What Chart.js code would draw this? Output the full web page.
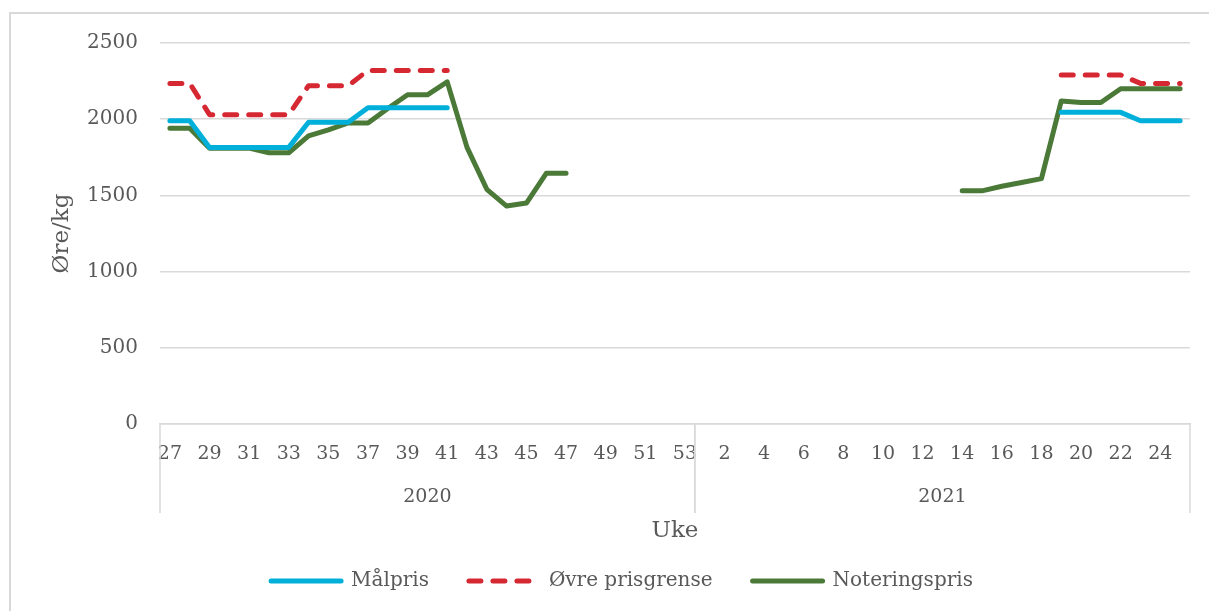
<!DOCTYPE html>
<html>
<head>
<meta charset="utf-8">
<script src="https://cdn.jsdelivr.net/npm/chart.js@4"></script>
<style>
  body { margin: 0; background: #fff; overflow: hidden; }
  #wrap { position: relative; width: 1209px; height: 611px; }
  #frame { position: absolute; left: 9px; top: 12px; width: 1300px; height: 700px; border: 2px solid #d9d9d9; pointer-events: none; }
</style>
</head>
<body>
<div id="wrap">
  <canvas id="priceChart" width="1209" height="611"></canvas>
  <div id="frame"></div>
</div>
<script>
// uker
const weeks2020 = ['27','28','29','30','31','32','33','34','35','36','37','38','39','40','41','42','43','44','45','46','47','48','49','50','51','52','53'];
const weeks2021 = ['1','2','3','4','5','6','7','8','9','10','11','12','13','14','15','16','17','18','19','20','21','22','23','24','25'];
const years = ['2020', '2021'];

// øre/kg, null = ingen notering
const malpris = [
  1990, 1990, 1815, 1815, 1815, 1815, 1815, 1980, 1980, 1980, 2075, 2075, 2075, 2075, 2075,
  null, null, null, null, null, null, null, null, null, null, null, null,
  null, null, null, null, null, null, null, null, null, null, null, null, null, null, null, null, null, null,
  2045, 2045, 2045, 2045, 1990, 1990, 1990
];
const ovrePrisgrense = [
  2235, 2235, 2030, 2030, 2030, 2030, 2030, 2220, 2220, 2220, 2320, 2320, 2320, 2320, 2320,
  null, null, null, null, null, null, null, null, null, null, null, null,
  null, null, null, null, null, null, null, null, null, null, null, null, null, null, null, null, null, null,
  2290, 2290, 2290, 2290, 2235, 2235, 2235
];
const noteringspris = [
  1940, 1940, 1810, 1810, 1810, 1780, 1780, 1890, 1930, 1975, 1975, 2070, 2160, 2160, 2245,
  1815, 1540, 1430, 1450, 1645, 1645,
  null, null, null, null, null, null,
  null, null, null, null, null, null, null, null, null, null, null, null, null,
  1530, 1530, 1560, 1585, 1610, 2120, 2110, 2110, 2200, 2200, 2200, 2200
];
const yTicks = [0, 500, 1000, 1500, 2000, 2500];

const labels = weeks2020.concat(weeks2021);
const textColor = '#595959';
const gridColor = '#d9d9d9';
const fontFamily = '"DejaVu Serif", serif';

// årstall under ukene + skillelinjer
const yearGroups = {
  id: 'yearGroups',
  afterLayout(chart) {
    // legenden står litt til høyre for midten i originalen
    chart.legend.left += 22;
    chart.legend.right += 22;
  },
  afterDraw(chart) {
    const x = chart.scales.x;
    const ctx = chart.ctx;
    const bottom = chart.chartArea.bottom;
    const step = x.getPixelForValue(1) - x.getPixelForValue(0);
    const counts = [weeks2020.length, weeks2021.length];
    let start = 0;
    ctx.save();
    ctx.strokeStyle = gridColor;
    ctx.lineWidth = 1.5;
    ctx.fillStyle = textColor;
    ctx.font = '19px ' + fontFamily;
    ctx.textAlign = 'center';
    ctx.textBaseline = 'middle';
    counts.forEach((n, g) => {
      const left = x.getPixelForValue(start) - step / 2;
      const right = x.getPixelForValue(start + n - 1) + step / 2;
      [left, right].forEach(px => {
        ctx.beginPath();
        ctx.moveTo(px, bottom);
        ctx.lineTo(px, bottom + 89);
        ctx.stroke();
      });
      ctx.fillText(years[g], (left + right) / 2, bottom + 73);
      start += n;
    });
    ctx.restore();
  }
};

const ctx = document.getElementById('priceChart').getContext('2d');
new Chart(ctx, {
  type: 'line',
  data: {
    labels: labels,
    datasets: [{
      label: 'Målpris\u2003\u2002',
      data: malpris,
      borderColor: '#00b0da',
      backgroundColor: '#00b0da',
      borderWidth: 5
    }, {
      label: 'Øvre prisgrense\u2003\u2002',
      data: ovrePrisgrense,
      borderColor: '#d62832',
      backgroundColor: '#d62832',
      borderWidth: 5,
      borderDash: [12, 12]
    }, {
      label: 'Noteringspris',
      data: noteringspris,
      borderColor: '#4b7a38',
      backgroundColor: '#4b7a38',
      borderWidth: 5
    }]
  },
  options: {
    responsive: false,
    animation: false,
    devicePixelRatio: 1,
    spanGaps: false,
    elements: {
      line: { tension: 0, borderCapStyle: 'round', borderJoinStyle: 'round', fill: false },
      point: { radius: 0, hoverRadius: 0 }
    },
    layout: { padding: { left: 10, right: 19, top: 43, bottom: 10 } },
    plugins: {
      tooltip: { enabled: false },
      legend: {
        position: 'bottom',
        labels: {
          usePointStyle: true,
          pointStyle: 'line',
          pointStyleWidth: 70,
          padding: 10,
          color: textColor,
          font: { family: fontFamily, size: 20 },
          generateLabels: chart => Chart.defaults.plugins.legend.labels.generateLabels(chart).map(item => {
            const ds = chart.data.datasets[item.datasetIndex];
            item.lineDash = ds.borderDash || [];
            item.lineCap = 'round';
            item.lineWidth = 5;
            return item;
          })
        }
      }
    },
    scales: {
      x: {
        offset: true,
        grid: { display: false, drawTicks: false },
        border: { display: true, color: gridColor, width: 1.5 },
        ticks: {
          autoSkip: false,
          maxRotation: 0,
          padding: 19,
          color: textColor,
          font: { family: fontFamily, size: 19 },
          callback: function (value, index) {
            return index % 2 === 0 ? this.getLabelForValue(value) : '';
          }
        },
        title: {
          display: true,
          text: 'Uke',
          color: textColor,
          font: { family: fontFamily, size: 23 },
          padding: { top: 0, bottom: 16 }
        },
        afterFit: scale => { scale.height = 137; }
      },
      y: {
        min: 0,
        max: 2500,
        afterBuildTicks: scale => { scale.ticks = yTicks.map(v => ({ value: v })); },
        grid: { color: gridColor, lineWidth: 1.5, drawTicks: false },
        border: { display: false },
        ticks: {
          padding: 22,
          color: textColor,
          font: { family: fontFamily, size: 20 },
          callback: value => String(value)
        },
        title: {
          display: true,
          text: 'Øre/kg',
          color: textColor,
          font: { family: fontFamily, size: 23 },
          padding: { top: 38, bottom: 0 }
        },
        afterFit: scale => { scale.width = 150; }
      }
    }
  },
  plugins: [yearGroups]
});
</script>
</body>
</html>
